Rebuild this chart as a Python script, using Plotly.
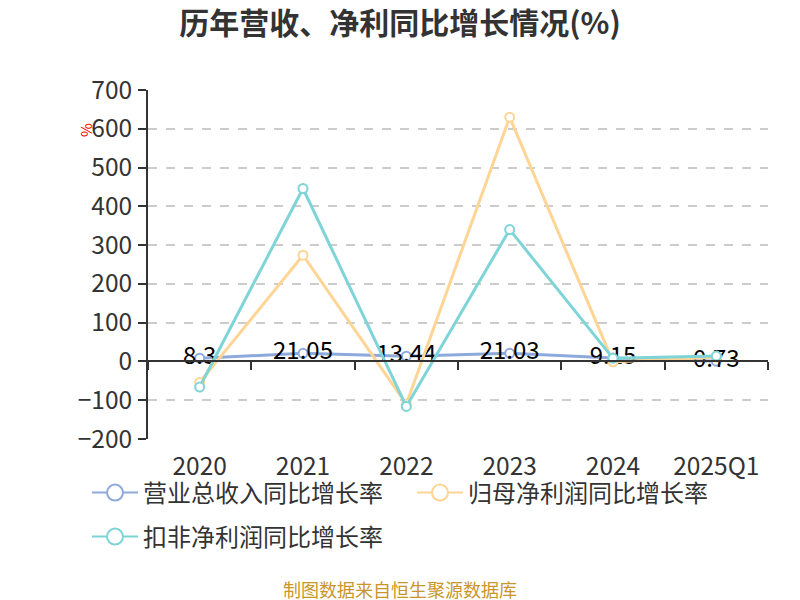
import plotly.graph_objects as go

# ---- data ----
periods = ["2020", "2021", "2022", "2023", "2024", "2025Q1"]
revenue_growth = [8.3, 21.05, 13.44, 21.03, 9.15, 0.73]
net_profit_growth = [-54, 274, -110, 630, -1, 11]
deducted_profit_growth = [-66, 446, -116, 340, 8, 14]
revenue_labels = ["8.3", "21.05", "13.44", "21.03", "9.15", "0.73"]
series_names = ["营业总收入同比增长率", "归母净利润同比增长率", "扣非净利润同比增长率"]
y_ticks = [-200, -100, 0, 100, 200, 300, 400, 500, 600, 700]

colors = ["#8eaadc", "#ffd596", "#7fd4d7"]
FONT = "Noto Sans CJK SC, Noto Sans, sans-serif"
W, H = 800, 600
PL, PR, PT, PB = 148, 32, 90, 161
PW, PH = W - PL - PR, H - PT - PB


def px_x(x):
    return (x - PL) / PW


def px_y(y):
    return (H - PB - y) / PH


fig = go.Figure()

series = [revenue_growth, net_profit_growth, deducted_profit_growth]
for i, vals in enumerate(series):
    fig.add_trace(go.Scatter(
        x=periods, y=vals,
        mode="lines+markers+text" if i == 0 else "lines+markers",
        text=revenue_labels if i == 0 else None,
        textposition="middle center",
        textfont=dict(family=FONT, size=24, color="#000000"),
        line=dict(color=colors[i], width=3),
        marker=dict(symbol="circle", size=9, color="#ffffff",
                    line=dict(color=colors[i], width=2)),
        showlegend=False, hoverinfo="x+y", name=series_names[i],
    ))

# legend entries (large empty-circle icons)
for i, name in enumerate(series_names):
    fig.add_trace(go.Scatter(
        x=[None], y=[None], mode="lines+markers", name=name,
        line=dict(color=colors[i], width=2),
        marker=dict(symbol="circle", size=22, color="#ffffff",
                    line=dict(color=colors[i], width=2)),
        legend="legend" if i < 2 else "legend2",
    ))

# invisible trace on the zero-line axis so it carries the categories
fig.add_trace(go.Scatter(x=periods, y=[None] * len(periods), xaxis="x2",
                         showlegend=False, hoverinfo="skip", mode="lines"))

cat_range = [-0.5, len(periods) - 0.5]

fig.update_layout(
    width=W, height=H,
    paper_bgcolor="#ffffff", plot_bgcolor="#ffffff",
    margin=dict(l=PL, r=PR, t=PT, b=PB, autoexpand=False),
    font=dict(family=FONT, color="#333333"),
    title=dict(text="<b>历年营收、净利同比增长情况(%)</b>", x=0.5, xanchor="center",
               xref="container", yref="container",
               y=1 - 23 / H, yanchor="middle",
               font=dict(family=FONT, size=30, color="#333333")),
    xaxis=dict(type="category", range=cat_range, showline=False, showgrid=False,
               zeroline=False, ticks="", ticklabelstandoff=10, automargin=False,
               tickfont=dict(family=FONT, size=24.5, color="#333333")),
    xaxis2=dict(type="category", overlaying="x", matches="x", anchor="free",
                position=200 / 900, showline=True, linecolor="#333333", linewidth=2,
                ticks="outside", ticklen=8, tickwidth=2, tickcolor="#333333",
                tickson="boundaries", showticklabels=False, showgrid=False,
                zeroline=False, automargin=False),
    yaxis=dict(range=[-200, 700], tickvals=y_ticks, showgrid=True,
               gridcolor="#cccccc", griddash="dash", gridwidth=1.5,
               zeroline=False, showline=True, linecolor="#333333", linewidth=2,
               ticks="outside", ticklen=8, tickwidth=2, tickcolor="#333333",
               ticklabelstandoff=1, automargin=False,
               tickfont=dict(family=FONT, size=24.5, color="#333333")),
    legend=dict(orientation="h", x=px_x(87), xanchor="left",
                y=px_y(493), yanchor="middle", itemwidth=46,
                entrywidth=264, entrywidthmode="pixels",
                font=dict(family=FONT, size=24, color="#333333"),
                bgcolor="rgba(0,0,0,0)"),
    legend2=dict(orientation="h", x=px_x(87), xanchor="left",
                 y=px_y(537), yanchor="middle", itemwidth=46,
                 font=dict(family=FONT, size=24, color="#333333"),
                 bgcolor="rgba(0,0,0,0)"),
    annotations=[
        dict(text="%", xref="paper", yref="paper",
             x=px_x(85), y=px_y(130), showarrow=False,
             xanchor="center", yanchor="middle",
             textangle=-90, font=dict(family=FONT, size=15, color="#ff0000")),
        dict(text="制图数据来自恒生聚源数据库", xref="paper", yref="paper",
             x=px_x(400), y=px_y(589),
             xanchor="center", yanchor="middle", showarrow=False,
             font=dict(family=FONT, size=18, color="#c8962a")),
    ],
)

fig.write_html("out.html", config={"displayModeBar": False},
               post_script="document.body.style.margin='0';"
                           "document.body.style.overflow='hidden';")
